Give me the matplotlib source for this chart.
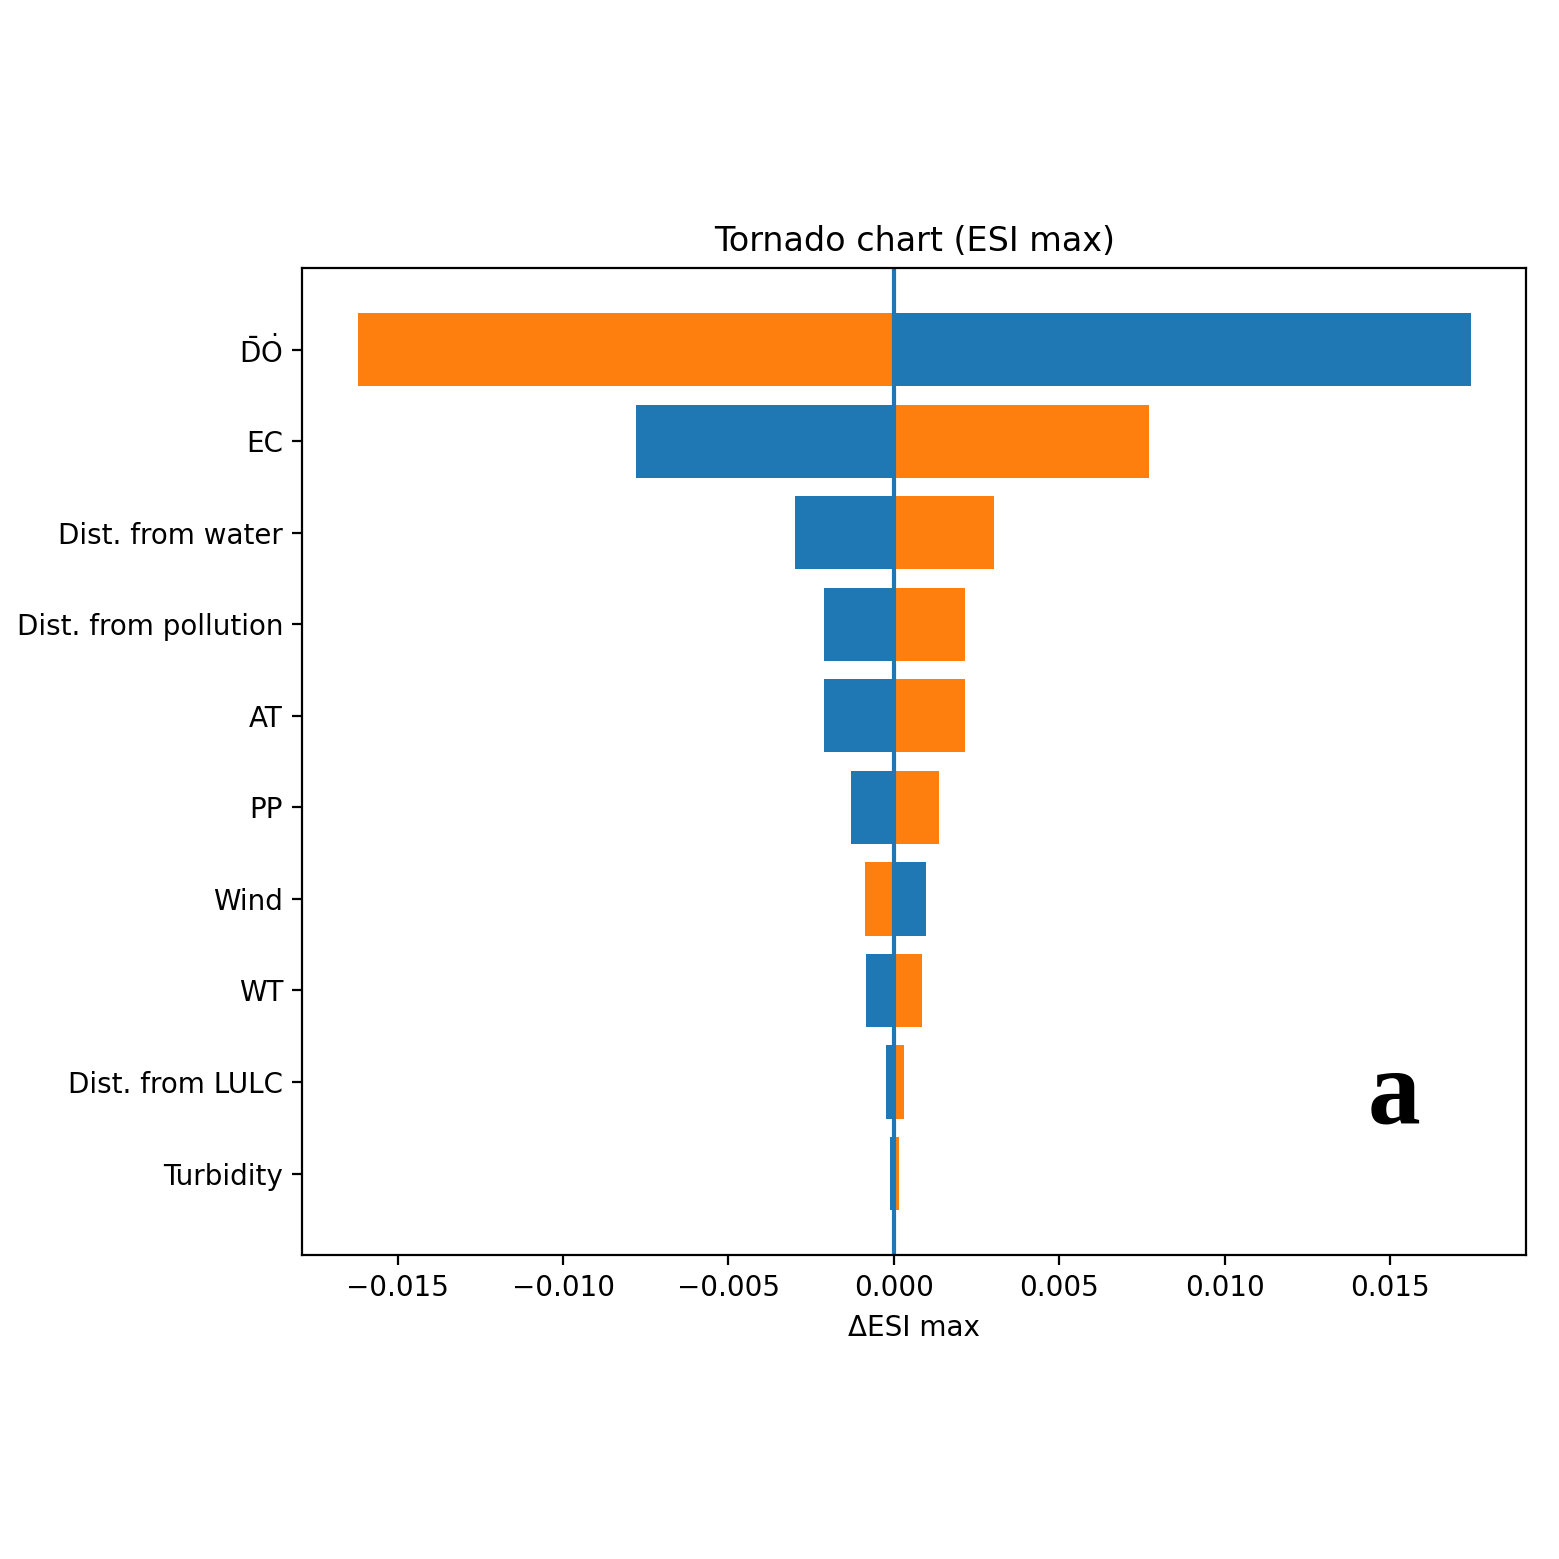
import numpy as np
import matplotlib
matplotlib.use("Agg")
import matplotlib.pyplot as plt

factors = [r"$\bar{\mathrm{D}}\dot{\mathrm{O}}$", "EC", "Dist. from water", "Dist. from pollution",
           "AT", "PP", "Wind", "WT", "Dist. from LULC", "Turbidity"]
blue_vals = [0.01744, -0.0078, -0.0030, -0.0021, -0.0021, -0.00129, 0.00097, -0.00083, -0.00024, -0.00012]
orange_vals = [-0.0162, 0.0077, 0.00304, 0.00216, 0.00216, 0.00137, -0.00087, 0.00086, 0.00032, 0.00017]

fig = plt.figure(figsize=(7.795, 7.795), dpi=200)
ax = fig.add_axes([0.194, 0.195, 0.785, 0.633])

y = np.arange(len(factors))
ax.barh(y, blue_vals, color="C0")
ax.barh(y, orange_vals, color="C1")
ax.axvline(0, color="C0")
ax.set_yticks(y)
ax.set_yticklabels(factors)
ax.invert_yaxis()
ax.set_xlabel("ΔESI max")
ax.set_title("Tornado chart (ESI max)")
ax.text(0.892, 0.16, "a", transform=ax.transAxes, ha="center", va="center",
        fontsize=38, fontweight="bold", family="Liberation Serif")

fig.savefig("out.png", dpi=200)
